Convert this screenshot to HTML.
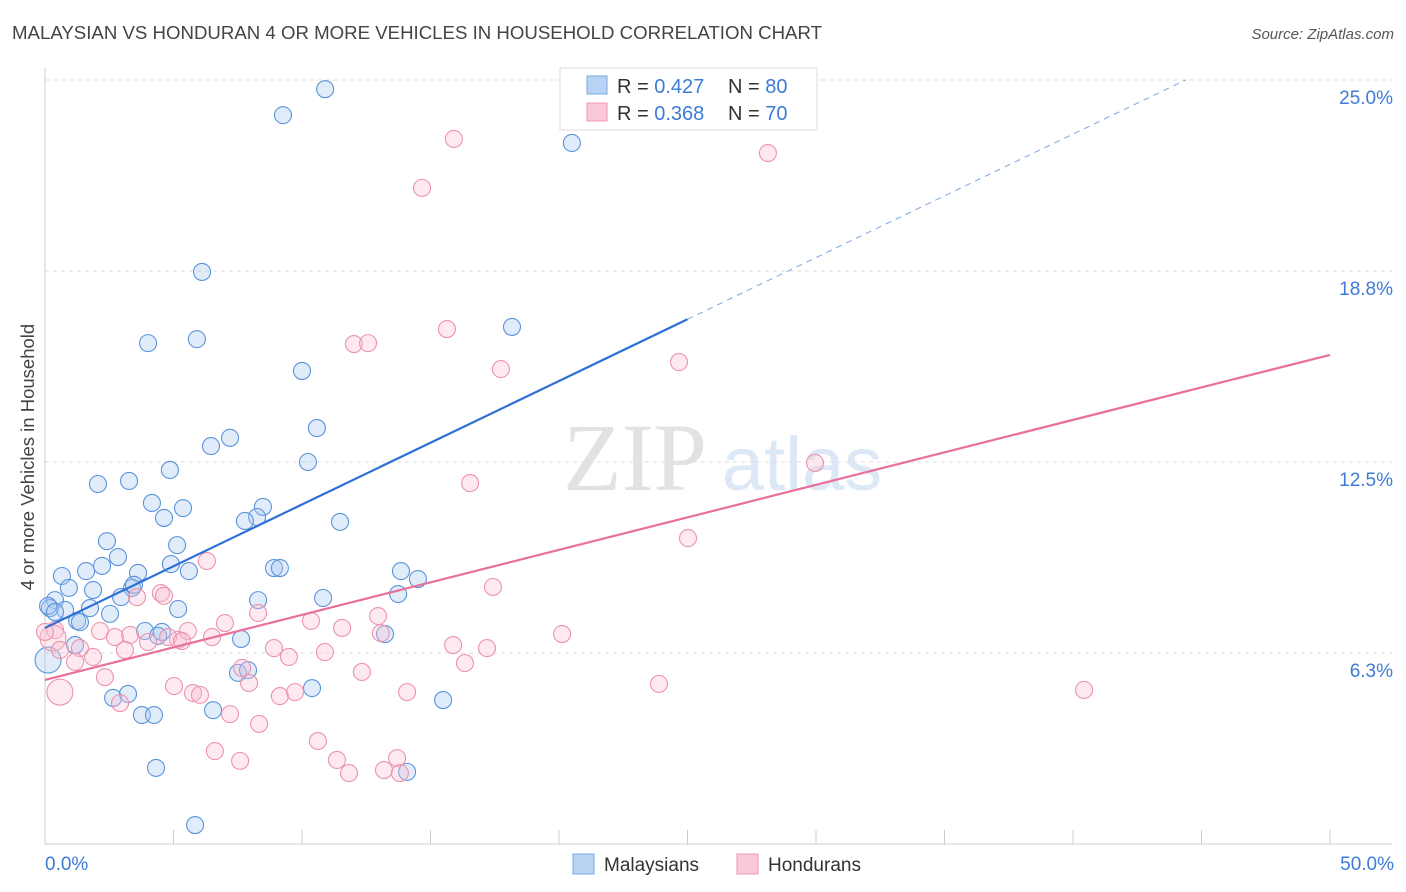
<!DOCTYPE html>
<html><head><meta charset="utf-8">
<style>
body{margin:0;background:#fff;font-family:"Liberation Sans",sans-serif;}
svg{display:block}
</style></head>
<body>
<svg id="chart" width="1406" height="892" viewBox="0 0 1406 892" xmlns="http://www.w3.org/2000/svg">
<text x="12" y="39" font-size="18.5" fill="#444" font-family="Liberation Sans, sans-serif" textLength="810" lengthAdjust="spacingAndGlyphs">MALAYSIAN VS HONDURAN 4 OR MORE VEHICLES IN HOUSEHOLD CORRELATION CHART</text>
<text x="1394" y="39" font-size="15" fill="#555" font-style="italic" text-anchor="end">Source: ZipAtlas.com</text>
<g>
<text x="635" y="490" font-size="96" fill="#e2e2e2" font-family="Liberation Serif, serif" text-anchor="middle">ZIP</text>
<text x="802" y="490" font-size="76" fill="#dce8f6" text-anchor="middle">atlas</text>
</g>
<g id="grid"></g>
<g id="axes"></g>
<g id="marks"></g>
<g id="lines"></g>
<text transform="translate(34,457) rotate(-90)" font-size="18.5" fill="#444" text-anchor="middle">4 or more Vehicles in Household</text>
<g>
<rect x="560" y="68" width="257" height="62" fill="#fff" stroke="#ddd"/>
<rect x="587" y="76" width="20" height="18" fill="#b9d3f5" stroke="#7aa7e0"/>
<rect x="587" y="103" width="20" height="18" fill="#fbc8d7" stroke="#ee9ab3"/>
<text x="617" y="93" font-size="20" fill="#333">R = <tspan fill="#3d7bd6">0.427</tspan></text>
<text x="728" y="93" font-size="20" fill="#333">N = <tspan fill="#3d7bd6">80</tspan></text>
<text x="617" y="120" font-size="20" fill="#333">R = <tspan fill="#3d7bd6">0.368</tspan></text>
<text x="728" y="120" font-size="20" fill="#333">N = <tspan fill="#3d7bd6">70</tspan></text>
</g>
<g>
<rect x="573" y="854" width="21" height="20" fill="#b9d3f5" stroke="#7aa7e0"/>
<text x="604" y="871" font-size="19" fill="#333">Malaysians</text>
<rect x="737" y="854" width="21" height="20" fill="#fbc8d7" stroke="#ee9ab3"/>
<text x="768" y="871" font-size="19" fill="#333">Hondurans</text>
</g>
</svg>
<script>
const blueX=[10.9,9.26,20.5,23.07,6.11,18.17,4.01,5.91,10.0,10.58,7.2,6.46,10.23,4.86,2.06,3.27,4.16,5.37,4.63,8.48,8.25,7.78,11.48,5.14,2.41,2.84,2.22,1.6,0.66,3.62,3.39,4.9,5.6,8.91,9.14,13.85,14.51,0.93,1.87,2.96,5.18,8.29,10.82,13.74,0.39,0.19,0.78,1.75,2.53,1.25,1.36,3.89,4.55,4.4,7.63,13.23,1.17,0.12,7.51,7.9,10.39,2.65,3.23,6.54,3.77,4.24,15.49,4.32,14.09,5.84,0.12,0.39,3.46];
const blueY=[24.7,23.85,22.94,24.25,18.72,16.92,16.39,16.52,15.48,13.61,13.29,13.02,12.5,12.24,11.78,11.88,11.16,10.99,10.67,11.03,10.7,10.57,10.54,9.78,9.91,9.39,9.1,8.93,8.77,8.87,8.38,9.16,8.93,9.03,9.03,8.93,8.67,8.38,8.31,8.08,7.69,7.98,8.05,8.18,7.98,7.72,7.66,7.72,7.53,7.3,7.26,6.97,6.94,6.81,6.71,6.87,6.51,6.02,5.6,5.69,5.1,4.78,4.91,4.38,4.22,4.22,4.71,2.49,2.36,0.62,7.79,7.59,8.48];
const pinkX=[15.91,28.13,14.67,15.64,12.02,12.57,24.67,17.74,29.96,16.54,25.02,6.3,17.43,4.51,3.58,4.63,8.29,10.35,12.96,7.0,11.56,13.07,20.12,0.39,2.14,3.31,2.72,4.01,5.18,5.56,6.5,4.79,5.33,0.31,0.58,1.36,3.11,1.87,1.17,8.91,9.49,10.89,15.88,17.2,16.34,7.67,7.94,12.33,23.89,40.43,0.58,2.33,5.02,5.76,6.03,9.14,9.73,14.09,2.92,7.2,8.33,6.61,7.59,10.62,11.36,11.83,13.19,13.7,13.81,0.0];
const pinkY=[23.07,22.61,21.47,16.85,16.36,16.39,15.77,15.54,12.47,11.81,10.01,9.26,8.41,8.21,8.08,8.12,7.56,7.3,7.46,7.23,7.07,6.9,6.87,7.0,6.97,6.84,6.77,6.61,6.68,6.97,6.77,6.77,6.64,6.74,6.35,6.41,6.35,6.12,5.96,6.41,6.12,6.28,6.51,6.41,5.92,5.76,5.27,5.63,5.24,5.04,4.97,5.46,5.17,4.94,4.88,4.84,4.97,4.97,4.61,4.25,3.93,3.04,2.72,3.37,2.75,2.32,2.42,2.81,2.32,6.94];
const blueBig=[57];
const pinkBig=[33,50];
const yTicks=[6.25,12.5,18.75,25];
const yTickLabels=["6.3%","12.5%","18.8%","25.0%"];
const xTicks=[0,5,10,15,20,25,30,35,40,45,50];
const blueFit=[7.07,0.404];
const pinkFit=[5.37,0.2127];

const NS="http://www.w3.org/2000/svg";
const X=v=>45+v*25.7, Y=v=>844-v*30.56;
function mk(tag,attrs,parent){const e=document.createElementNS(NS,tag);for(const k in attrs)e.setAttribute(k,attrs[k]);parent.appendChild(e);return e;}
const grid=document.getElementById('grid'),axes=document.getElementById('axes'),marks=document.getElementById('marks'),lines=document.getElementById('lines');
let g=mk('line',{x1:45,x2:1392,y1:80,y2:80,stroke:'#ddd','stroke-dasharray':'4,4'},grid);


yTicks.forEach((t,i)=>{
  const l=mk('line',{x1:45,x2:1392,y1:Y(t),y2:Y(t),stroke:'#ddd','stroke-dasharray':'4,4'},grid);
  
  
  const tx=mk('text',{x:1393,y:Y(t)+24,'font-size':19,fill:'#3d7bd6','text-anchor':'end'},axes);
  tx.textContent=yTickLabels[i];
  
  
});
let ax=mk('line',{x1:45,x2:45,y1:68,y2:844,stroke:'#ccc'},axes);


ax=mk('line',{x1:45,x2:1392,y1:844,y2:844,stroke:'#ccc'},axes);


xTicks.forEach(t=>{
  const l=mk('line',{x1:X(t),x2:X(t),y1:830,y2:844,stroke:'#ccc'},axes);
  
  
});
let xl=mk('text',{x:45,y:870,'font-size':19,fill:'#3d7bd6'},axes);xl.textContent='0.0%';


xl=mk('text',{x:1394,y:870,'font-size':19,fill:'#3d7bd6','text-anchor':'end'},axes);xl.textContent='50.0%';


function pts(xs,ys,big,fill,stroke,name){
  xs.forEach((x,i)=>{
    const c=mk('circle',{cx:X(x),cy:Y(ys[i]),r:big.includes(i)?13:8.5,fill:fill,'fill-opacity':0.35,stroke:stroke,'stroke-width':1.1},marks);
    
    
  });
}
pts(blueX,blueY,blueBig,'#a9c8f0','#5b93db','malaysian-point');
pts(pinkX,pinkY,pinkBig,'#f8bfd0','#ec93ae','honduran-point');
let ln=mk('line',{x1:X(0),y1:Y(blueFit[0]),x2:X(25),y2:Y(blueFit[0]+blueFit[1]*25),stroke:'#2c6fd6','stroke-width':2.2},lines);


ln=mk('line',{x1:X(25),y1:Y(blueFit[0]+blueFit[1]*25),x2:X(44.4),y2:Y(blueFit[0]+blueFit[1]*44.4),stroke:'#7aa7e0','stroke-width':1,'stroke-dasharray':'6,5'},lines);


ln=mk('line',{x1:X(0),y1:Y(pinkFit[0]),x2:X(50),y2:Y(pinkFit[0]+pinkFit[1]*50),stroke:'#e8709a','stroke-width':2.2},lines);


</script>
</body></html>
